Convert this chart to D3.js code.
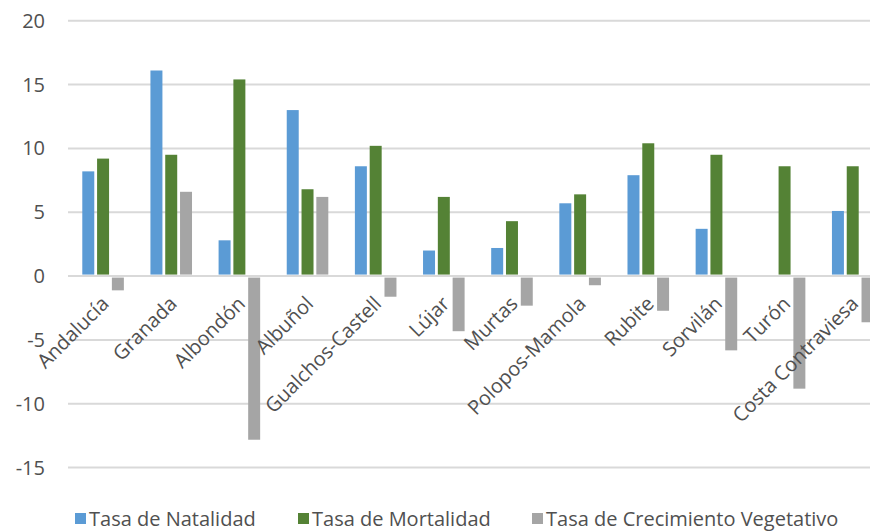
<!DOCTYPE html>
<html>
<head>
<meta charset="utf-8">
<script src="https://cdn.jsdelivr.net/npm/d3@7"></script>
<style>
  body { margin: 0; background: #fff; }
  svg { display: block; font-family: "Open Sans", sans-serif; }
</style>
</head>
<body>
<div id="chart"></div>
<script>
var categories = ["Andalucía", "Granada", "Albondón", "Albuñol", "Gualchos-Castell", "Lújar",
    "Murtas", "Polopos-Mamola", "Rubite", "Sorvilán", "Turón", "Costa Contraviesa"];
var seriesNames = ["Tasa de Natalidad", "Tasa de Mortalidad", "Tasa de Crecimiento Vegetativo"];
var natalidad = [8.2, 16.1, 2.8, 13.0, 8.6, 2.0, 2.2, 5.7, 7.9, 3.7, 0, 5.1];
var mortalidad = [9.2, 9.5, 15.4, 6.8, 10.2, 6.2, 4.3, 6.4, 10.4, 9.5, 8.6, 8.6];
var crecimiento = [-1.0, 6.6, -12.7, 6.2, -1.5, -4.2, -2.2, -0.6, -2.6, -5.7, -8.7, -3.5];
var yTicks = [-15, -10, -5, 0, 5, 10, 15, 20];
var colors = ["#5b9bd5", "#548235", "#a5a5a5"];

var width = 870, height = 532;
var svg = d3.select("#chart").append("svg")
    .attr("width", width)
    .attr("height", height);

var seriesValues = [natalidad, mortalidad, crecimiento];
var rows = categories.map(function(c, i) {
    return { name: c, values: seriesValues.map(function(s, k) { return { key: k, value: s[i] }; }) };
});

var x0 = d3.scaleBand()
    .domain(categories)
    .range([69, 69 + 12 * 68.15])
    .paddingInner(0.39)
    .paddingOuter(0.195);

var x1 = d3.scaleBand()
    .domain([0, 1, 2])
    .range([0, x0.bandwidth()])
    .paddingInner(0.19);

var y = d3.scaleLinear()
    .domain([-15, 20])
    .range([467.6, 20.7]);

// gridlines
svg.append("g").selectAll("line")
    .data(yTicks)
    .enter().append("line")
    .attr("x1", 68)
    .attr("x2", width)
    .attr("y1", function(d) { return y(d); })
    .attr("y2", function(d) { return y(d); })
    .style("stroke", "#d9d9d9")
    .style("stroke-width", 2);

// y tick labels
svg.append("g").selectAll("text")
    .data(yTicks)
    .enter().append("text")
    .attr("x", 45)
    .attr("y", function(d) { return y(d); })
    .attr("dy", "0.35em")
    .style("text-anchor", "end")
    .style("font-size", "20px")
    .style("fill", "#505050")
    .text(function(d) { return d; });

// bars
var group = svg.append("g").selectAll("g")
    .data(rows)
    .enter().append("g")
    .attr("transform", function(d) { return "translate(" + x0(d.name) + ",0)"; });

group.selectAll("rect")
    .data(function(d) { return d.values; })
    .enter().append("rect")
    .attr("x", function(d) { return x1(d.key); })
    .attr("width", x1.bandwidth())
    .attr("y", function(d) { return d.value >= 0 ? y(d.value) : y(0) + 1.5; })
    .attr("height", function(d) { return Math.max(0, Math.abs(y(d.value) - y(0)) - (d.value >= 0 ? 1.5 : 0)); })
    .style("fill", function(d) { return colors[d.key]; });

// category labels
svg.append("g").selectAll("text")
    .data(categories)
    .enter().append("text")
    .attr("transform", function(d) {
        return "translate(" + (x0(d) + x0.bandwidth() / 2 + 7) + ",305) rotate(-45)";
    })
    .style("text-anchor", "end")
    .style("font-size", "20px")
    .style("fill", "#505050")
    .text(function(d) { return d; });

// legend
var legendX = [75, 298, 532];
var legend = svg.append("g").selectAll("g")
    .data(seriesNames)
    .enter().append("g")
    .attr("transform", function(d, i) { return "translate(" + legendX[i] + ",0)"; });

legend.append("rect")
    .attr("x", 0)
    .attr("y", 513)
    .attr("width", 11)
    .attr("height", 11)
    .style("fill", function(d, i) { return colors[i]; });

legend.append("text")
    .attr("x", 14)
    .attr("y", 526)
    .style("font-size", "20px")
    .style("fill", "#505050")
    .text(function(d) { return d; });
</script>
</body>
</html>
